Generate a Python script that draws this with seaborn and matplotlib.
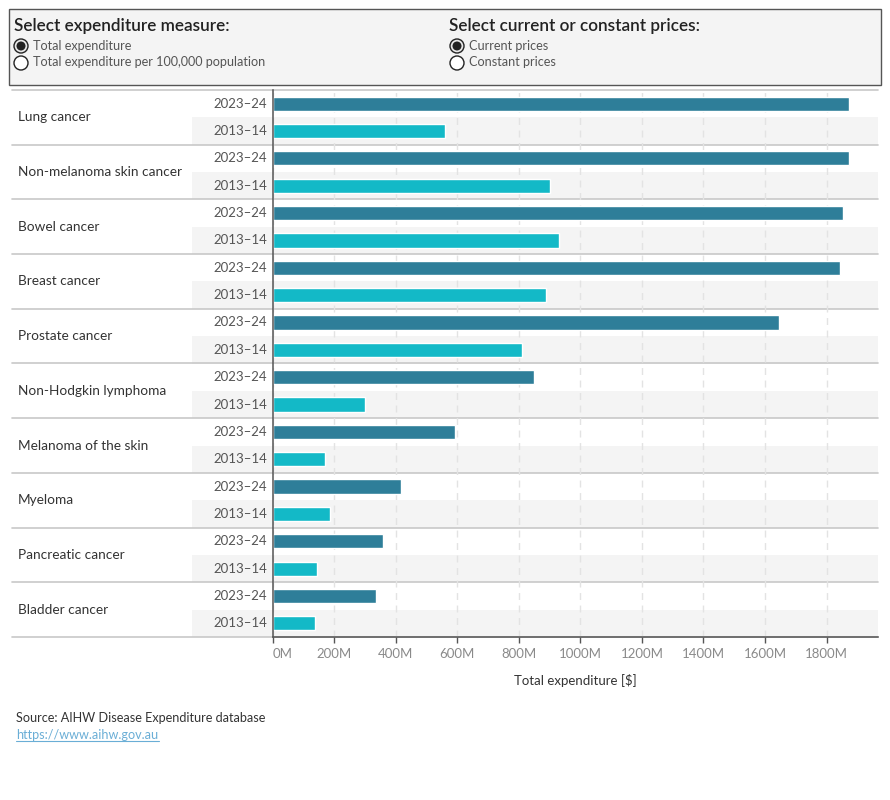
import matplotlib
matplotlib.use("Agg")
import matplotlib.pyplot as plt
import matplotlib.transforms as mtransforms
from matplotlib.patches import Rectangle, Circle
from matplotlib.lines import Line2D
import seaborn as sns
import pandas as pd

# ---- data ----
cancers = ["Lung cancer", "Non-melanoma skin cancer", "Bowel cancer", "Breast cancer",
           "Prostate cancer", "Non-Hodgkin lymphoma", "Melanoma of the skin", "Myeloma",
           "Pancreatic cancer", "Bladder cancer"]
years = ["2023–24", "2013–14"]
values_2023_24 = [1872, 1872, 1853, 1843, 1645, 848, 594, 419, 360, 337]
values_2013_14 = [562, 900, 932, 890, 809, 301, 171, 188, 145, 139]
tick_values = [0, 200, 400, 600, 800, 1000, 1200, 1400, 1600, 1800]
tick_labels = ["0M", "200M", "400M", "600M", "800M", "1000M", "1200M", "1400M", "1600M", "1800M"]

rows, row_year, row_val = [], [], []
for c, v1, v2 in zip(cancers, values_2023_24, values_2013_14):
    for y, v in zip(years, (v1, v2)):
        rows.append(f"{c}|{y}")
        row_year.append(y)
        row_val.append(v)
df = pd.DataFrame({"row": rows, "year": row_year, "value": row_val})

sns.set_theme(style="white")
FONT = ["Lato", "DejaVu Sans"]
plt.rcParams["font.family"] = FONT

W, H = 890, 800
fig = plt.figure(figsize=(W / 100, H / 100), dpi=100)

# overlay axes in pixel coordinates (for decorations), drawn below main axes
oax = fig.add_axes([0, 0, 1, 1])
oax.set_xlim(0, W)
oax.set_ylim(H, 0)
oax.axis("off")
oax.set_zorder(0)

AX_L, AX_R, AX_T, AX_B = 272.5, 878, 90, 637
ax = fig.add_axes([AX_L / W, 1 - AX_B / H, (AX_R - AX_L) / W, (AX_B - AX_T) / H])
ax.set_zorder(1)
ax.patch.set_alpha(0)

palette = {"2023–24": "#2e7e99", "2013–14": "#13b9c7"}
sns.barplot(data=df, x="value", y="row", hue="year", order=rows, hue_order=years,
            palette=palette, dodge=False, width=0.52, saturation=1, legend=False, ax=ax)

ax.set_xlim(0, (AX_R - AX_L) / 0.3078)
ax.set_ylim(len(rows) - 0.5, -0.5)
ax.set_yticks([])
ax.set_ylabel("")
ax.set_xticks(tick_values)
ax.set_xticklabels(tick_labels)
ax.get_xticklabels()[0].set_horizontalalignment("left")
ax.tick_params(axis="x", length=4, width=1, color="#555555", labelcolor="#8a8a8a",
               labelsize=9.5, pad=4, bottom=True)
ax.set_xlabel("Total expenditure [$]", fontsize=9.5, color="#333333", labelpad=10)
ax.set_axisbelow(True)
ax.grid(axis="x", color="#e3e3e3", linestyle=(0, (5, 4)), linewidth=1)
ax.grid(axis="y", visible=False)
for s in ("top", "right"):
    ax.spines[s].set_visible(False)
for s in ("left", "bottom"):
    ax.spines[s].set_color("#555555")
    ax.spines[s].set_linewidth(1.1)

# blended transform: x in pixels (overlay), y in data rows
bt = mtransforms.blended_transform_factory(oax.transData, ax.transData)

for i, (r, y) in enumerate(zip(rows, row_year)):
    if y == "2013–14":
        oax.add_patch(Rectangle((192, i - 0.5), AX_R - 192, 1, transform=bt,
                                facecolor="#f4f4f4", edgecolor="none", zorder=0))
    ax.text(267, i, y, transform=bt, ha="right", va="center", fontsize=9.5,
            color="#555555", clip_on=False)

for k in range(len(cancers) + 1):
    oax.add_line(Line2D([12, AX_R], [2 * k - 0.5, 2 * k - 0.5], transform=bt,
                        color="#c8c8c8", linewidth=1.2, zorder=1))
for k, c in enumerate(cancers):
    ax.text(18, 2 * k + 0.5, c, transform=bt, ha="left", va="center", fontsize=9.8,
            color="#333333", clip_on=False)

# ---- top parameter box ----
oax.add_patch(Rectangle((9, 9), 872, 76, facecolor="#f4f4f4", edgecolor="#555555",
                        linewidth=1, zorder=1))
oax.text(14, 26, "Select expenditure measure:", fontsize=12.3, fontweight="semibold",
         color="#222222", va="center", ha="left")
oax.text(449, 26, "Select current or constant prices:", fontsize=12.3, fontweight="semibold",
         color="#222222", va="center", ha="left")


def radio(x, y, selected):
    oax.add_patch(Circle((x, y), 7, facecolor="#e8e8e8" if selected else "white",
                         edgecolor="#222222", linewidth=1, zorder=2))
    if selected:
        oax.add_patch(Circle((x, y), 4.5, facecolor="#222222", edgecolor="none", zorder=3))


radio(21, 46, True)
radio(21, 63, False)
radio(457, 46, True)
radio(457, 63, False)
oax.text(33, 45.5, "Total expenditure", fontsize=9.1, color="#555555", va="center")
oax.text(33, 62.5, "Total expenditure per 100,000 population", fontsize=9.1, color="#555555", va="center")
oax.text(469, 45.5, "Current prices", fontsize=9.1, color="#555555", va="center")
oax.text(469, 62.5, "Constant prices", fontsize=9.1, color="#555555", va="center")

# ---- footer ----
oax.text(16, 718, "Source: AIHW Disease Expenditure database", fontsize=9.1,
         color="#333333", va="center")
oax.text(16, 735, "https://www.aihw.gov.au", fontsize=9.1, color="#6aaed6", va="center")
oax.add_line(Line2D([16, 159], [741, 741], color="#6aaed6", linewidth=0.8))

fig.savefig("out.png", dpi=100)
